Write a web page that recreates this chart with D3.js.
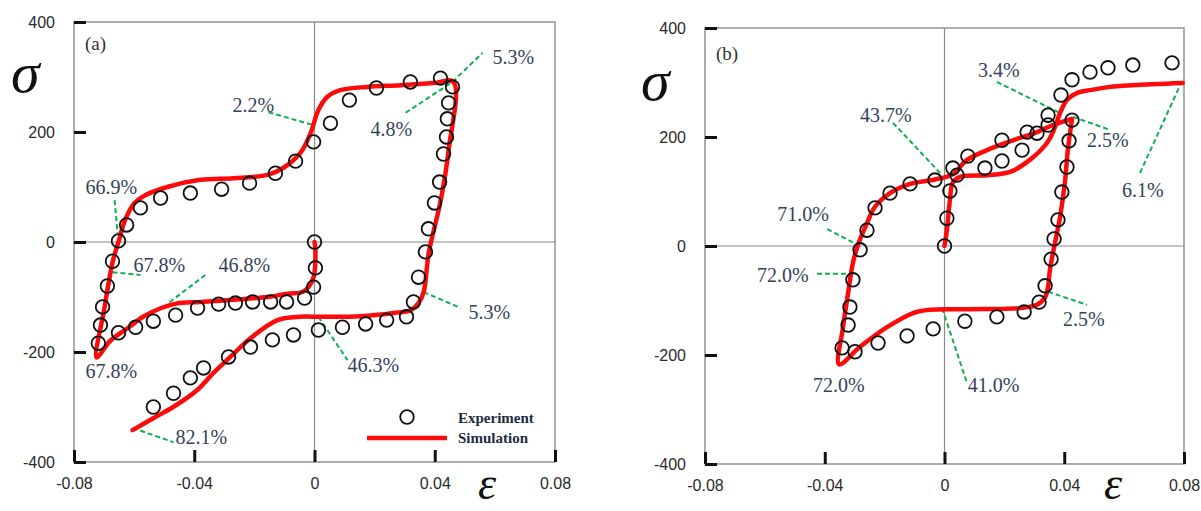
<!DOCTYPE html>
<html>
<head>
<meta charset="utf-8">
<script src="https://cdn.jsdelivr.net/npm/d3@7"></script>
<style>
  html, body { margin: 0; padding: 0; background: #fff; }
  svg { display: block; }
</style>
</head>
<body>
<svg id="chart" width="1201" height="511"></svg>
<script>
// ---- axis ticks ----
const strainTicks = [-0.08, -0.04, 0, 0.04, 0.08];
const stressTicks = [-400, -200, 0, 200, 400];
const strainTickLabels = ["-0.08", "-0.04", "0", "0.04", "0.08"];
const stressTickLabels = ["-400", "-200", "0", "200", "400"];

// ---- panel (a): [strain, stress] ----
const simA = [
  [0, 0], [0.0003, -15], [-0.0003, -64], [-0.002, -82], [-0.004, -91], [-0.009, -94],
  [-0.0156, -100], [-0.027, -105], [-0.038, -109], [-0.046, -112], [-0.051, -120],
  [-0.057, -136], [-0.062, -156], [-0.068, -180], [-0.0725, -210],
  [-0.070, -124], [-0.0685, -75], [-0.067, -33], [-0.065, 4], [-0.063, 40], [-0.060, 70],
  [-0.057, 83], [-0.049, 100], [-0.038, 113], [-0.027, 116], [-0.0156, 122], [-0.0103, 135],
  [-0.0047, 162], [-0.0013, 198], [0.0013, 240], [0.0043, 264], [0.0086, 276],
  [0.0176, 282], [0.0286, 285], [0.0396, 289], [0.0462, 291],
  [0.0446, 167], [0.042, 76], [0.038, -20], [0.0363, -91], [0.0346, -111], [0.032, -124],
  [0.0263, -129], [0.0153, -135], [0.002, -136], [-0.0047, -136], [-0.0123, -142],
  [-0.0213, -175], [-0.028, -209], [-0.0336, -238], [-0.039, -269], [-0.047, -300],
  [-0.0535, -320], [-0.0605, -342]
];
const expA = [
  [0, 0], [0.0003, -47], [-0.0003, -82], [-0.0033, -102], [-0.0093, -109], [-0.0146, -109],
  [-0.0206, -109], [-0.0263, -111], [-0.0319, -113], [-0.0389, -120], [-0.0462, -133],
  [-0.0536, -144], [-0.0595, -155], [-0.0652, -165], [-0.0719, -184],
  [-0.0712, -151], [-0.0705, -118], [-0.0689, -80], [-0.0672, -35], [-0.0652, 2],
  [-0.0625, 31], [-0.0579, 62], [-0.0512, 80], [-0.0413, 89], [-0.0309, 96], [-0.0216, 107],
  [-0.0130, 125], [-0.0063, 147], [-0.0003, 182], [0.0053, 216], [0.0116, 258],
  [0.0206, 280], [0.0319, 291], [0.0419, 298],
  [0.0459, 282], [0.0446, 253], [0.0442, 224], [0.0439, 191], [0.0429, 160], [0.0416, 109],
  [0.0399, 71], [0.0379, 24], [0.0369, -18], [0.0346, -64], [0.0329, -109], [0.0306, -136],
  [0.0240, -142], [0.0170, -149], [0.0093, -155], [0.0013, -160], [-0.0070, -169],
  [-0.0140, -178], [-0.0213, -191], [-0.0286, -209], [-0.0369, -229], [-0.0413, -247],
  [-0.0469, -275], [-0.0536, -300]
];

// ---- panel (b): [strain, stress] ----
const simBLoading = [
  [0, 0], [0.0008, 29], [0.0018, 84], [0.0028, 117], [0.0052, 127], [0.0142, 130],
  [0.0219, 136], [0.0285, 158], [0.0342, 189], [0.0369, 218], [0.0386, 244],
  [0.0409, 268], [0.0443, 281], [0.0486, 286], [0.0553, 292], [0.0629, 295], [0.0796, 299]
];
const simBCycle = [
  [0.0426, 233], [0.0412, 176], [0.0402, 116], [0.0386, 53], [0.0369, 6], [0.0352, -44],
  [0.0346, -75], [0.0336, -94], [0.0309, -108], [0.0252, -114], [0.0075, -116],
  [-0.0048, -117], [-0.0105, -123], [-0.0192, -149], [-0.0282, -185], [-0.0352, -217],
  [-0.0339, -149], [-0.0322, -86], [-0.0306, -31], [-0.0289, 2], [-0.0259, 42],
  [-0.0232, 72], [-0.0182, 97], [-0.0115, 114], [-0.0032, 122], [0.0028, 132],
  [0.0075, 158], [0.0142, 176], [0.0229, 194], [0.0309, 209], [0.0362, 222], [0.0426, 233]
];
const expBLoading = [
  [0, 0], [0.0008, 51], [0.0018, 101], [0.0042, 130], [0.0135, 143], [0.0192, 156],
  [0.0259, 176], [0.0309, 207], [0.0346, 240], [0.0389, 277], [0.0426, 305],
  [0.0486, 319], [0.0546, 327], [0.0629, 332], [0.0760, 336]
];
const expBCycle = [
  [0.0426, 231], [0.0416, 193], [0.0409, 145], [0.0392, 99], [0.0379, 48], [0.0366, 13],
  [0.0356, -24], [0.0336, -73], [0.0316, -103], [0.0266, -121], [0.0175, -130],
  [0.0068, -138], [-0.0038, -152], [-0.0125, -165], [-0.0222, -178], [-0.0299, -194],
  [-0.0342, -187], [-0.0322, -145], [-0.0316, -112], [-0.0306, -62], [-0.0282, -7],
  [-0.0259, 29], [-0.0232, 70], [-0.0182, 97], [-0.0115, 114], [-0.0032, 121],
  [0.0028, 143], [0.0078, 165], [0.0192, 194], [0.0276, 209], [0.0346, 222]
];

// ---- percentage callouts: text anchor + optional leader, in data units ----
const notesA = [
  { text: "2.2%",  at: [-0.0273, 236], from: [-0.0153, 236], to: [-0.0007, 213] },
  { text: "4.8%",  at: [0.0186, 193],  from: [0.0303, 235],  to: [0.0459, 291] },
  { text: "5.3%",  at: [0.0592, 324],  from: [0.0459, 291],  to: [0.0559, 344] },
  { text: "66.9%", at: [-0.0762, 87],  from: [-0.0665, 76],  to: [-0.0655, 16] },
  { text: "67.8%", at: [-0.0602, -55], from: [-0.0672, -55], to: [-0.0579, -60] },
  { text: "46.8%", at: [-0.0319, -55], from: [-0.0363, -60], to: [-0.0486, -111] },
  { text: "67.8%", at: [-0.0762, -247] },
  { text: "82.1%", at: [-0.0462, -367], from: [-0.0605, -338], to: [-0.0469, -364] },
  { text: "5.3%",  at: [0.0512, -140], from: [0.0363, -91],  to: [0.0486, -120] },
  { text: "46.3%", at: [0.0110, -236], from: [0.0013, -136], to: [0.0110, -215] }
];
const notesB = [
  { text: "43.7%", at: [-0.0282, 228], from: [-0.0172, 226], to: [-0.0008, 130] },
  { text: "71.0%", at: [-0.0559, 46],  from: [-0.0392, 31],  to: [-0.0289, 2] },
  { text: "72.0%", at: [-0.0626, -66], from: [-0.0426, -51], to: [-0.0306, -51] },
  { text: "72.0%", at: [-0.0439, -268] },
  { text: "3.4%",  at: [0.0112, 310],  from: [0.0175, 301],  to: [0.0386, 244] },
  { text: "2.5%",  at: [0.0476, 182],  from: [0.0429, 237],  to: [0.0553, 213] },
  { text: "6.1%",  at: [0.0593, 90],   from: [0.0653, 134],  to: [0.0787, 295] },
  { text: "2.5%",  at: [0.0396, -147], from: [0.0346, -84],  to: [0.0476, -108] },
  { text: "41.0%", at: [0.0078, -268], from: [-0.0008, -114], to: [0.0075, -251] }
];

const legendItems = ["Experiment", "Simulation"];

// ---- drawing ----
const svg = d3.select("#chart");
const RED = "#ff0a0a";
const GREEN = "#12b04e";
const NOTE = "#33435a";
const FRAME = "#8a8a8a";

function drawPanel(cfg) {
  const x = d3.scaleLinear().domain([-0.08, 0.08]).range([cfg.left, cfg.right]);
  const y = d3.scaleLinear().domain([-400, 400]).range([cfg.bottom, cfg.top]);
  const g = svg.append("g");

  // frame and zero lines
  g.append("rect")
    .attr("x", cfg.left).attr("y", cfg.top)
    .attr("width", cfg.right - cfg.left).attr("height", cfg.bottom - cfg.top)
    .attr("fill", "none").attr("stroke", FRAME).attr("stroke-width", 1.4);
  g.append("line")
    .attr("x1", x(0)).attr("x2", x(0)).attr("y1", cfg.top).attr("y2", cfg.bottom)
    .attr("stroke", FRAME).attr("stroke-width", 1.2);
  g.append("line")
    .attr("x1", cfg.left).attr("x2", cfg.right).attr("y1", y(0)).attr("y2", y(0))
    .attr("stroke", FRAME).attr("stroke-width", 1.2);

  // bottom axis: inward ticks
  const xAxis = d3.axisBottom(x).tickValues(strainTicks)
    .tickSizeInner(-12).tickSizeOuter(0).tickPadding(16)
    .tickFormat((d, i) => strainTickLabels[i]);
  const gx = g.append("g").attr("transform", `translate(0,${cfg.bottom})`).call(xAxis);
  gx.select(".domain").remove();
  gx.selectAll(".tick line").attr("stroke", "#111").attr("stroke-width", 3);
  gx.selectAll(".tick text")
    .attr("font-family", "Liberation Sans, Arial, sans-serif")
    .attr("font-size", 16).attr("fill", "#2a2a2a");

  // left axis: inward ticks
  const yAxis = d3.axisLeft(y).tickValues(stressTicks)
    .tickSizeInner(-12).tickSizeOuter(0).tickPadding(19)
    .tickFormat((d, i) => stressTickLabels[i]);
  const gy = g.append("g").attr("transform", `translate(${cfg.left},0)`).call(yAxis);
  gy.select(".domain").remove();
  gy.selectAll(".tick line").attr("stroke", "#111").attr("stroke-width", 3);
  gy.selectAll(".tick text")
    .attr("font-family", "Liberation Sans, Arial, sans-serif")
    .attr("font-size", 16).attr("fill", "#2a2a2a");

  // axis symbols
  g.append("text").text("σ")
    .attr("x", cfg.sigmaX).attr("y", cfg.sigmaY)
    .attr("font-family", "Liberation Serif, Times New Roman, serif")
    .attr("font-style", "italic").attr("font-size", 58).attr("fill", "#111");
  g.append("text").text("ε")
    .attr("x", cfg.epsX).attr("y", cfg.epsY)
    .attr("font-family", "Liberation Serif, Times New Roman, serif")
    .attr("font-style", "italic").attr("font-size", 46).attr("fill", "#111");

  // panel tag
  g.append("text").text(cfg.tag)
    .attr("x", cfg.left + 11).attr("y", cfg.top + cfg.tagDy)
    .attr("font-family", "Liberation Serif, Times New Roman, serif")
    .attr("font-size", 19).attr("fill", "#333");

  // green dashed leaders
  const leaders = cfg.notes.filter(n => n.from);
  g.selectAll("line.leader").data(leaders).join("line")
    .attr("class", "leader")
    .attr("x1", d => x(d.from[0])).attr("y1", d => y(d.from[1]))
    .attr("x2", d => x(d.to[0])).attr("y2", d => y(d.to[1]))
    .attr("stroke", GREEN).attr("stroke-width", 2).attr("stroke-dasharray", "5,3");

  // simulation curves
  const line = d3.line().x(d => x(d[0])).y(d => y(d[1]))
    .curve(d3.curveCatmullRom.alpha(0.5));
  cfg.sims.forEach(s => {
    g.append("path").attr("d", line(s))
      .attr("fill", "none").attr("stroke", RED).attr("stroke-width", 4.5)
      .attr("stroke-linejoin", "round").attr("stroke-linecap", "round");
  });

  // experimental points
  cfg.exps.forEach(s => {
    g.append("g").selectAll("circle").data(s).join("circle")
      .attr("cx", d => x(d[0])).attr("cy", d => y(d[1])).attr("r", 6.8)
      .attr("fill", "none").attr("stroke", "#111").attr("stroke-width", 1.8);
  });

  // callout text
  g.selectAll("text.note").data(cfg.notes).join("text")
    .attr("class", "note")
    .attr("x", d => x(d.at[0])).attr("y", d => y(d.at[1]))
    .text(d => d.text)
    .attr("font-family", "Liberation Serif, Times New Roman, serif")
    .attr("font-size", 20).attr("fill", NOTE);

  return { g, x, y };
}

const pa = drawPanel({
  left: 74, right: 555, top: 22, bottom: 462,
  tag: "(a)", tagDy: 28,
  sigmaX: 11, sigmaY: 92, epsX: 478, epsY: 499,
  notes: notesA, sims: [simA], exps: [expA]
});

drawPanel({
  left: 705, right: 1184, top: 28, bottom: 464,
  tag: "(b)", tagDy: 32,
  sigmaX: 641, sigmaY: 100, epsX: 1104, epsY: 499,
  notes: notesB, sims: [simBLoading, simBCycle], exps: [expBLoading, expBCycle]
});

// legend inside panel (a)
const lg = pa.g.append("g").attr("transform", "translate(367,417)");
lg.append("circle").attr("cx", 40).attr("cy", 0).attr("r", 6.8)
  .attr("fill", "none").attr("stroke", "#111").attr("stroke-width", 1.8);
lg.append("line").attr("x1", 0).attr("x2", 80).attr("y1", 21).attr("y2", 21)
  .attr("stroke", RED).attr("stroke-width", 4.5);
lg.selectAll("text").data(legendItems).join("text")
  .attr("x", 91).attr("y", (d, i) => 6 + i * 20)
  .text(d => d)
  .attr("font-family", "Liberation Serif, Times New Roman, serif")
  .attr("font-weight", "bold").attr("font-size", 15).attr("fill", "#1c2a40");
</script>
</body>
</html>
